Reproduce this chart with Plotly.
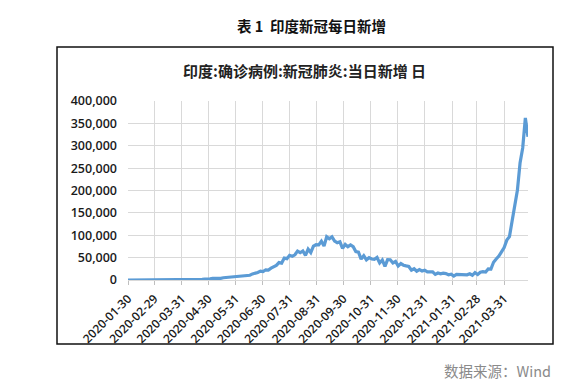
import pandas as pd
import plotly.graph_objects as go

# page body has an 8px margin, so the figure is 8px smaller and all
# reference pixel positions are shifted by 8px
OFF = 8
W, H = 588 - OFF, 386 - OFF

# ---- data (daily new confirmed cases, India, sampled every 3 days) ----
dates = pd.date_range("2020-01-30", "2021-04-27", freq="3D")
new_cases = [
    1, 0, 0, 0, 0, 0, 0, 0, 0, 0, 0,
    2, 4, 8, 11, 24, 28, 82, 99, 149, 227,
    601, 472, 540, 1035, 1463, 1007, 1553, 1409, 1975, 1718,
    2411, 3900, 3390, 4213, 3722, 4987, 5611, 6654, 6535, 7466,
    8392, 9304, 9971, 9985, 11458, 10667, 13586, 14821, 16922, 19906,
    18653, 22771, 22252, 26506, 28701, 32695, 38902, 37724, 48916, 47703, 55078,
    52972, 56282, 64399, 60963, 65002, 55079, 68898, 61408, 75760, 78761,
    78357, 86432, 75809, 96551, 92071, 96424, 86961, 83347, 85362, 70589,
    79476, 74442, 78524, 74383, 63509, 62212, 46790, 54366, 45148, 49881,
    46963, 46253, 50356, 38073, 44879, 30548, 45576, 45209, 37975, 41322,
    31118, 36594, 32981, 31522, 30254, 22065, 25152, 19556, 23068, 20021, 21822,
    18177, 18088, 18222, 12584, 15590, 13788, 15223, 14256, 11666, 13083,
    8635, 12408, 11831, 12923, 12194, 11610, 13993, 10584, 16577,
    12286, 17407, 18711, 17921, 24882, 24492, 39726, 46951, 53476, 62714, 72330,
    89129, 96982, 131968, 168912, 200739, 261500, 295041, 362000, 320000,
]

tick_dates = ["2020-01-30", "2020-02-29", "2020-03-31", "2020-04-30", "2020-05-31",
              "2020-06-30", "2020-07-31", "2020-08-31", "2020-09-30", "2020-10-31",
              "2020-11-30", "2020-12-31", "2021-01-31", "2021-02-28", "2021-03-31"]
y_ticks = [0, 50000, 100000, 150000, 200000, 250000, 300000, 350000, 400000]
y_labels = ["0", "50,000", "100,000", "150,000", "200,000", "250,000",
            "300,000", "350,000", "400,000"]

page_title = "表 1  印度新冠每日新增"
chart_title = "印度:确诊病例:新冠肺炎:当日新增 日"
source_text = "数据来源：Wind"

# ---- plot box in reference pixels ----
L, R, T, B = 128, 528, 101, 280

def px(x):
    return (x - L) / (R - L)

def py(y):
    return (B - y) / (B - T)

fig = go.Figure()
fig.add_trace(go.Scatter(
    x=dates, y=new_cases, mode="lines",
    line=dict(color="#5b9bd5", width=3.2),
    hoverinfo="skip", showlegend=False,
))

num_font = dict(family="Open Sans, Noto Sans, sans-serif", size=12.5, color="#1a1a1a", weight=600)

fig.update_layout(
    width=W, height=H,
    margin=dict(l=L - OFF, r=588 - R, t=T - OFF, b=386 - B, autoexpand=False),
    paper_bgcolor="white", plot_bgcolor="white",
    showlegend=False,
    xaxis=dict(
        type="date",
        range=["2020-01-30", "2021-04-27"],
        tickmode="array",
        tickvals=tick_dates,
        ticktext=tick_dates,
        tickangle=-45,
        ticks="outside", ticklen=4, tickcolor="#bfbfbf",
        showgrid=True, gridcolor="#d9d9d9", gridwidth=1,
        showline=True, linecolor="#d9d9d9",
        zeroline=False, automargin=False,
        ticklabelstandoff=2,
        tickfont=dict(family="Open Sans, Noto Sans, sans-serif", size=12, color="#1a1a1a", weight=600),
    ),
    yaxis=dict(
        range=[0, 400000],
        tickmode="array",
        tickvals=y_ticks,
        ticktext=y_labels,
        showgrid=True, gridcolor="#d9d9d9", gridwidth=1,
        zeroline=False, showline=False, automargin=False,
        ticks="", ticklabelstandoff=10,
        tickfont=num_font,
    ),
    shapes=[
        dict(type="rect", xref="paper", yref="paper",
             x0=px(57), x1=px(553), y0=py(344), y1=py(47),
             line=dict(color="#111111", width=1.5), fillcolor="rgba(0,0,0,0)"),
    ],
    annotations=[
        dict(text=page_title, xref="paper", yref="paper", x=px(311), y=py(25),
             xanchor="center", yanchor="middle", showarrow=False,
             font=dict(family="Noto Sans CJK SC", size=14.5, color="#111111", weight="bold")),
        dict(text=chart_title, xref="paper", yref="paper", x=px(304), y=py(70),
             xanchor="center", yanchor="middle", showarrow=False,
             font=dict(family="Noto Sans CJK SC", size=15, color="#222222", weight="bold")),
        dict(text=source_text, xref="paper", yref="paper", x=px(553), y=py(370),
             xanchor="right", yanchor="middle", showarrow=False,
             font=dict(family="Noto Sans CJK SC, Noto Sans", size=14.5, color="#8a8a8a")),
    ],
)

fig.write_html("out.html")
